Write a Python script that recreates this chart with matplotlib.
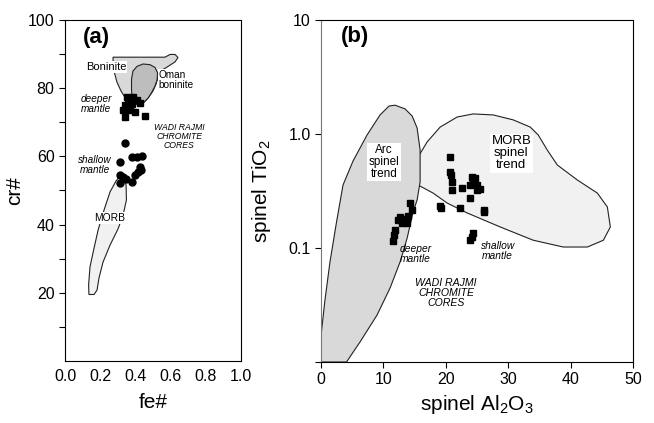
import matplotlib
matplotlib.use("Agg")
import matplotlib.pyplot as plt
import numpy as np
from matplotlib.patches import Polygon

plt.rcParams['font.family'] = ['Liberation Sans', 'DejaVu Sans']
plt.rcParams['mathtext.fontset'] = 'custom'
plt.rcParams['mathtext.rm'] = 'Liberation Sans'

# ---------------- Panel (a) data ----------------
a_sq_fe = [0.36, 0.388, 0.407, 0.426, 0.341, 0.35, 0.369, 0.331, 0.398, 0.341, 0.455, 0.35, 0.36, 0.38]
a_sq_cr = [77.0, 77.3, 76.5, 75.6, 75.1, 74.1, 73.6, 73.6, 73.1, 71.7, 71.8, 77.5, 74.5, 75.5]
a_ci_fe = [0.341, 0.3125, 0.379, 0.407, 0.435, 0.3125, 0.331, 0.3125, 0.426, 0.417, 0.398, 0.379, 0.345, 0.43]
a_ci_cr = [63.8, 58.4, 59.9, 59.7, 60.1, 54.5, 54.0, 52.1, 57.0, 55.5, 54.5, 52.6, 53.5, 56.0]

boninite_fe = [0.273, 0.426, 0.568, 0.597, 0.625, 0.642, 0.625, 0.580, 0.540, 0.526, 0.517,
               0.500, 0.472, 0.443, 0.409, 0.375, 0.347, 0.318, 0.295, 0.281, 0.273]
boninite_cr = [89.1, 89.1, 89.1, 89.9, 89.9, 89.0, 87.7, 86.2, 85.0, 82.9, 81.2,
               79.2, 77.1, 75.6, 75.3, 75.6, 76.8, 79.2, 81.8, 84.5, 87.4]
oman_fe = [0.381, 0.378, 0.378, 0.386, 0.409, 0.443, 0.483, 0.511, 0.526, 0.523, 0.511,
           0.494, 0.472, 0.443, 0.409, 0.386]
oman_cr = [76.8, 79.8, 82.7, 85.0, 86.4, 87.1, 86.9, 86.1, 84.5, 82.4, 80.6,
           78.9, 77.1, 75.6, 75.3, 75.9]
morb_a_fe = [0.330, 0.347, 0.349, 0.330, 0.301, 0.256, 0.216, 0.193, 0.182, 0.165, 0.136,
             0.134, 0.142, 0.165, 0.188, 0.222, 0.256, 0.290, 0.313]
morb_a_cr = [54.5, 51.6, 47.2, 42.8, 38.7, 34.0, 29.0, 24.3, 20.8, 19.5, 19.5,
             22.3, 27.6, 33.1, 38.4, 44.3, 49.6, 52.8, 54.3]

# ---------------- Panel (b) data ----------------
b_al = [14.28, 14.52, 12.67, 13.47, 13.80, 12.99, 12.35, 11.87, 11.71, 11.60, 13.2, 14.0,
        20.69, 20.69, 20.8, 20.96, 20.96, 22.57, 24.17, 24.70, 24.43, 23.90, 24.97, 25.5,
        23.90, 19.09, 22.30, 26.04, 26.04, 24.43, 23.90, 24.17, 19.3, 24.4, 25.0]
b_ti = [0.248, 0.215, 0.187, 0.176, 0.166, 0.166, 0.176, 0.144, 0.130, 0.115, 0.18, 0.19,
        0.625, 0.467, 0.437, 0.382, 0.323, 0.334, 0.422, 0.408, 0.370, 0.357, 0.323, 0.327,
        0.273, 0.233, 0.223, 0.215, 0.207, 0.135, 0.117, 0.126, 0.225, 0.40, 0.36]

arc_al = [11.87, 13.47, 14.60, 15.40, 15.88, 15.88, 15.40, 14.76, 13.80, 12.67, 11.07, 8.98,
          6.26, 4.09, 0.0, 0.05, 0.64, 1.44, 2.49, 3.53, 5.13, 7.38, 9.46, 10.91]
arc_ti = [1.79, 1.66, 1.44, 1.13, 0.724, 0.379, 0.264, 0.207, 0.122, 0.0754, 0.0446, 0.0258,
          0.0150, 0.01, 0.01, 0.0179, 0.035, 0.0754, 0.169, 0.357, 0.579, 0.98, 1.47, 1.76]
morb_b_al = [15.56, 17.0, 19.09, 21.82, 24.38, 27.59, 30.80, 33.53, 34.81, 36.25, 37.86, 41.07,
             44.28, 45.88, 46.36, 45.24, 42.67, 38.82, 34.01, 28.71, 23.42, 20.21, 17.97, 15.56, 15.56]
morb_b_ti = [0.628, 0.851, 1.15, 1.41, 1.50, 1.47, 1.33, 1.15, 0.98, 0.724, 0.535, 0.395,
             0.303, 0.229, 0.153, 0.117, 0.102, 0.102, 0.117, 0.153, 0.203, 0.248, 0.303, 0.357, 0.483]

fig = plt.figure(figsize=(6.54, 4.23), dpi=100)

# ================= Panel (a) =================
axa = fig.add_axes([0.0994, 0.1466, 0.2691, 0.8061])
axa.add_patch(Polygon(np.column_stack([morb_a_fe, morb_a_cr]), closed=True,
                      facecolor='#f1f1f1', edgecolor='#222222', lw=0.8, zorder=1))
axa.add_patch(Polygon(np.column_stack([boninite_fe, boninite_cr]), closed=True,
                      facecolor='#d9d9d9', edgecolor='#222222', lw=0.8, zorder=1))
axa.add_patch(Polygon(np.column_stack([oman_fe, oman_cr]), closed=True,
                      facecolor='#bdbdbd', edgecolor='#222222', lw=0.8, zorder=2))
axa.plot(a_sq_fe, a_sq_cr, 's', color='black', ms=5.0, zorder=4)
axa.plot(a_ci_fe, a_ci_cr, 'o', color='black', ms=5.0, zorder=4)

axa.set_xlim(0, 1.0)
axa.set_ylim(0, 100)
axa.set_xticks([0.0, 0.2, 0.4, 0.6, 0.8, 1.0])
axa.set_xticklabels(['0.0', '0.2', '0.4', '0.6', '0.8', '1.0'])
axa.set_yticks(np.arange(10, 101, 10))
axa.set_yticklabels(['' if v % 20 else str(v) for v in range(10, 101, 10)])
axa.tick_params(axis='both', labelsize=11.5, direction='out', length=4, width=0.8)
axa.tick_params(axis='x', length=0, pad=6)
axa.set_xlabel('fe#', fontsize=15, labelpad=6)
axa.set_ylabel('cr#', fontsize=15)
axa.yaxis.set_label_coords(-0.235, 0.5)

axa.text(0.18, 95, '(a)', fontsize=16, fontweight='bold', ha='center', va='center')
axa.text(0.233, 86.3, 'Boninite', fontsize=8, ha='center', va='center', zorder=5,
         bbox=dict(facecolor='white', edgecolor='none', pad=0.8))
axa.text(0.53, 82.5, 'Oman\nboninite', fontsize=7.2, ha='left', va='center', zorder=5,
         linespacing=1.0, bbox=dict(facecolor='white', edgecolor='none', pad=0.3))
axa.text(0.176, 75.5, 'deeper\nmantle', fontsize=7.2, style='italic', ha='center',
         va='center', linespacing=1.0)
axa.text(0.17, 57.5, 'shallow\nmantle', fontsize=7.2, style='italic', ha='center',
         va='center', linespacing=1.0)
axa.text(0.648, 65.7, 'WADI RAJMI\nCHROMITE\nCORES', fontsize=6.2, style='italic',
         ha='center', va='center', linespacing=1.0)
axa.text(0.256, 41.9, 'MORB', fontsize=7.4, ha='center', va='center', zorder=5,
         bbox=dict(facecolor='white', edgecolor='none', pad=0.5))

# ================= Panel (b) =================
axb = fig.add_axes([0.4908, 0.1442, 0.4772, 0.8085])
axb.add_patch(Polygon(np.column_stack([morb_b_al, morb_b_ti]), closed=True,
                      facecolor='#f1f1f1', edgecolor='#222222', lw=0.8, zorder=1))
axb.add_patch(Polygon(np.column_stack([arc_al, arc_ti]), closed=True,
                      facecolor='#d9d9d9', edgecolor='#222222', lw=0.8, zorder=2))
axb.plot(b_al, b_ti, 's', color='black', ms=5.0, zorder=4)

axb.set_yscale('log')
axb.set_xlim(0, 50)
axb.set_ylim(0.01, 10)
axb.set_xticks([0, 10, 20, 30, 40, 50])
axb.set_yticks([0.01, 0.1, 1.0, 10])
axb.set_yticklabels(['', '0.1', '1.0', '10'])
axb.yaxis.set_minor_locator(matplotlib.ticker.NullLocator())
axb.tick_params(axis='both', labelsize=11.5, direction='out', length=4, width=0.8)
axb.spines['left'].set_color('#777777')
axb.set_xlabel('spinel Al$_2$O$_3$', fontsize=15, labelpad=4)
axb.set_ylabel('spinel TiO$_2$', fontsize=15)
axb.yaxis.set_label_coords(-0.155, 0.5)

axb.text(5.45, 7.1, '(b)', fontsize=16, fontweight='bold', ha='center', va='center')
axb.text(10.1, 0.568, 'Arc\nspinel\ntrend', fontsize=8.5, ha='center', va='center',
         linespacing=1.0, zorder=5, bbox=dict(facecolor='white', edgecolor='none', pad=1.0))
axb.text(30.5, 0.68, 'MORB\nspinel\ntrend', fontsize=9.5, ha='center', va='center',
         linespacing=1.0, zorder=5, bbox=dict(facecolor='white', edgecolor='none', pad=1.0))
axb.text(12.6, 0.0886, 'deeper\nmantle', fontsize=7.4, style='italic', ha='left',
         va='center', linespacing=1.0)
axb.text(25.7, 0.094, 'shallow\nmantle', fontsize=7.4, style='italic', ha='left',
         va='center', linespacing=1.0)
axb.text(20.05, 0.0402, 'WADI RAJMI\nCHROMITE\nCORES', fontsize=7.6, style='italic',
         ha='center', va='center', linespacing=1.0)

fig.savefig('out.png', dpi=100)
